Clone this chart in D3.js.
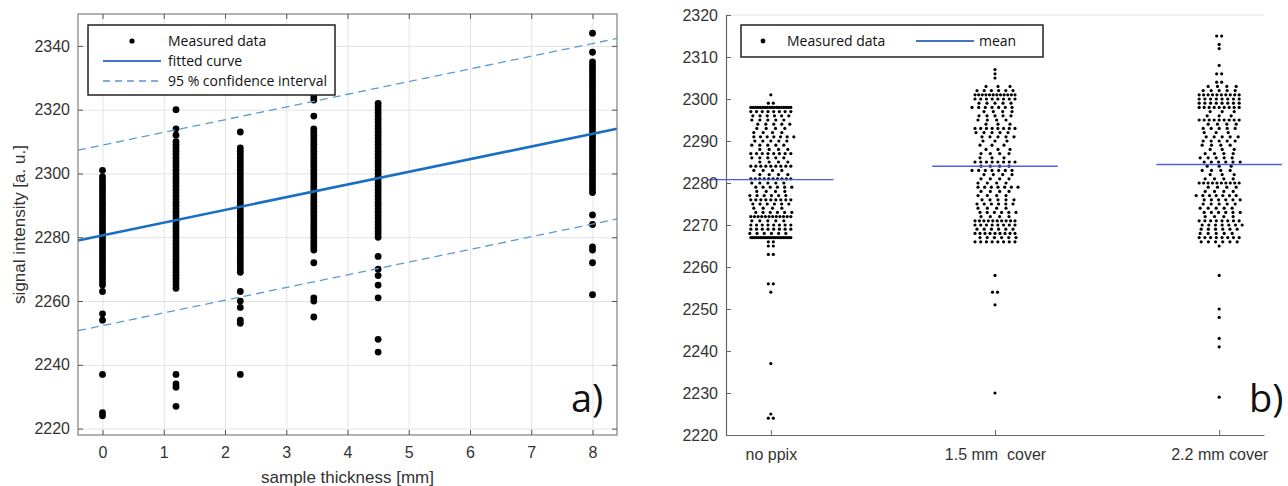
<!DOCTYPE html>
<html>
<head>
<meta charset="utf-8">
<script src="https://cdn.jsdelivr.net/npm/d3@7"></script>
<style>
  body { margin: 0; background: #fff; }
  svg { display: block; }
  text { font-family: "Liberation Sans", Arial, sans-serif; fill: #333; }
  .leg { font-family: "Open Sans", sans-serif; fill: #111; }
  .tag { font-family: "Open Sans", sans-serif; fill: #111; }
</style>
</head>
<body>
<div id="chart"></div>
<script>
// ---- panel a) : signal vs sample thickness ----
var thickness = [0, 1.2, 2.25, 3.45, 4.5, 8];

var signal0 = [2224, 2225, 2237, 2254, 2256, 2263,
  2265, 2266, 2267, 2268, 2269, 2270, 2271, 2272, 2273, 2274, 2275, 2276, 2277, 2278, 2279, 2280,
  2281, 2282, 2283, 2284, 2285, 2286, 2287, 2288, 2289, 2290, 2291, 2292, 2293, 2294, 2295, 2296,
  2297, 2298, 2299, 2301];
var signal1 = [2227, 2233, 2234, 2237,
  2264, 2265, 2266, 2267, 2268, 2269, 2270, 2271, 2272, 2273, 2274, 2275, 2276, 2277, 2278, 2279,
  2280, 2281, 2282, 2283, 2284, 2285, 2286, 2287, 2288, 2289, 2290, 2291, 2292, 2293, 2294, 2295,
  2296, 2297, 2298, 2299, 2300, 2301, 2302, 2303, 2304, 2305, 2306, 2307, 2308, 2309, 2310,
  2312, 2314, 2320];
var signal2 = [2237, 2253, 2254, 2258, 2260, 2263,
  2269, 2270, 2271, 2272, 2273, 2274, 2275, 2276, 2277, 2278, 2279, 2280, 2281, 2282, 2283, 2284,
  2285, 2286, 2287, 2288, 2289, 2290, 2291, 2292, 2293, 2294, 2295, 2296, 2297, 2298, 2299, 2300,
  2301, 2302, 2303, 2304, 2305, 2306, 2307, 2308, 2313];
var signal3 = [2255, 2260, 2261, 2272,
  2276, 2277, 2278, 2279, 2280, 2281, 2282, 2283, 2284, 2285, 2286, 2287, 2288, 2289, 2290, 2291,
  2292, 2293, 2294, 2295, 2296, 2297, 2298, 2299, 2300, 2301, 2302, 2303, 2304, 2305, 2306, 2307,
  2308, 2309, 2310, 2311, 2312, 2313, 2314, 2318, 2323, 2324, 2325, 2326];
var signal4 = [2244, 2248, 2261, 2265, 2268, 2270, 2274,
  2280, 2281, 2282, 2283, 2284, 2285, 2286, 2287, 2288, 2289, 2290, 2291, 2292, 2293, 2294, 2295,
  2296, 2297, 2298, 2299, 2300, 2301, 2302, 2303, 2304, 2305, 2306, 2307, 2308, 2309, 2310, 2311,
  2312, 2313, 2314, 2315, 2316, 2317, 2318, 2319, 2320, 2321, 2322];
var signal5 = [2262, 2272, 2276, 2277, 2284, 2287,
  2294, 2295, 2296, 2297, 2298, 2299, 2300, 2301, 2302, 2303, 2304, 2305, 2306, 2307, 2308, 2309,
  2310, 2311, 2312, 2313, 2314, 2315, 2316, 2317, 2318, 2319, 2320, 2321, 2322, 2323, 2324, 2325,
  2326, 2327, 2328, 2329, 2330, 2331, 2332, 2333, 2334, 2335, 2338, 2344];
var signalByThickness = [signal0, signal1, signal2, signal3, signal4, signal5];

var fitIntercept = 2280.6;
var fitSlope = 3.98;
var ciHalfWidth = 28.3;

var xTicksA = [0, 1, 2, 3, 4, 5, 6, 7, 8];
var yTicksA = [2220, 2240, 2260, 2280, 2300, 2320, 2340];

// ---- panel b) : groups, [value, count] ----
var groupLabels = ["no ppix", "1.5 mm  cover", "2.2 mm cover"];
var groupMeans = [2280.8, 2284.0, 2284.4];
var noPpix = [[2301,1],[2299,2],[2298,18],[2297,8],[2296,6],[2295,5],[2294,5],[2293,4],[2292,4],
  [2291,7],[2290,5],[2289,5],[2288,4],[2287,8],[2286,5],[2285,4],[2284,9],[2283,4],[2282,4],
  [2281,10],[2280,5],[2279,6],[2278,4],[2277,6],[2276,9],[2275,6],[2274,4],[2273,6],[2272,12],
  [2271,5],[2270,8],[2269,8],[2268,6],[2267,22],[2266,2],[2265,2],[2263,2],[2256,2],[2254,1],
  [2237,1],[2225,1],[2224,2]];
var cover15 = [[2307,1],[2306,1],[2305,1],[2303,3],[2302,6],[2301,12],[2300,8],[2299,5],[2298,7],
  [2297,4],[2296,5],[2295,4],[2294,3],[2293,8],[2292,5],[2291,5],[2290,3],[2289,3],[2288,3],
  [2287,4],[2286,3],[2285,8],[2284,4],[2283,7],[2282,4],[2281,4],[2280,4],[2279,7],[2278,4],
  [2277,4],[2276,5],[2275,6],[2274,4],[2273,6],[2272,4],[2271,10],[2270,8],[2269,6],[2268,9],
  [2267,6],[2266,8],[2258,1],[2254,2],[2251,1],[2230,1]];
var cover22 = [[2315,2],[2313,1],[2312,1],[2308,1],[2306,2],[2304,2],[2303,4],[2302,5],[2301,10],
  [2300,8],[2299,8],[2298,9],[2297,3],[2296,3],[2295,9],[2294,4],[2293,5],[2292,3],[2291,5],
  [2290,5],[2289,4],[2288,3],[2287,4],[2286,5],[2285,6],[2284,3],[2283,4],[2282,3],[2281,4],
  [2280,10],[2279,4],[2278,4],[2277,7],[2276,6],[2275,5],[2274,5],[2273,6],[2272,4],[2271,8],
  [2270,7],[2269,6],[2268,5],[2267,8],[2266,6],[2265,1],[2258,1],[2250,1],[2248,1],[2243,1],
  [2241,1],[2229,1]];
var groupData = [noPpix, cover15, cover22];
var yTicksB = [2220, 2230, 2240, 2250, 2260, 2270, 2280, 2290, 2300, 2310, 2320];

function init() {
  var w = 1288, h = 486;
  var svg = d3.select("#chart").append("svg").attr("width", w).attr("height", h);
  var fmt = d3.format("d");

  // ================= panel a =================
  var L = 78, R = 617, T = 14, B = 435;
  var x = d3.scaleLinear().domain([-0.4, 8.4]).range([L, R]);
  var y = d3.scaleLinear().domain([2218, 2350]).range([B, T]);

  var ga = svg.append("g");
  // grid
  ga.append("g").attr("transform", "translate(0," + B + ")")
    .call(d3.axisBottom(x).tickValues(xTicksA).tickSize(-(B - T)).tickFormat(""))
    .call(function(g) { g.select(".domain").remove(); g.selectAll("line").attr("stroke", "#e3e3e3"); });
  ga.append("g").attr("transform", "translate(" + L + ",0)")
    .call(d3.axisLeft(y).tickValues(yTicksA).tickSize(-(R - L)).tickFormat(""))
    .call(function(g) { g.select(".domain").remove(); g.selectAll("line").attr("stroke", "#e3e3e3"); });

  // points
  var pts = [];
  thickness.forEach(function(t, i) {
    signalByThickness[i].forEach(function(v) { pts.push([t, v]); });
  });
  ga.append("g").selectAll("circle").data(pts).enter().append("circle")
    .attr("cx", function(d) { return x(d[0]); })
    .attr("cy", function(d) { return y(d[1]); })
    .attr("r", 3.4)
    .attr("fill", "#000");

  // fit + confidence lines
  var xd = x.domain();
  function fitLine(off) {
    return d3.line()
      .x(function(d) { return x(d); })
      .y(function(d) { return y(fitIntercept + fitSlope * d + off); })(xd);
  }
  ga.append("path").attr("d", fitLine(ciHalfWidth)).attr("fill", "none")
    .attr("stroke", "#5b9bd5").attr("stroke-width", 1.3).attr("stroke-dasharray", "8,5");
  ga.append("path").attr("d", fitLine(-ciHalfWidth)).attr("fill", "none")
    .attr("stroke", "#5b9bd5").attr("stroke-width", 1.3).attr("stroke-dasharray", "8,5");
  ga.append("path").attr("d", fitLine(0)).attr("fill", "none")
    .attr("stroke", "#1a6fc2").attr("stroke-width", 2.6);

  // frame + axes
  ga.append("rect").attr("x", L).attr("y", T).attr("width", R - L).attr("height", B - T)
    .attr("fill", "none").attr("stroke", "#808080").attr("stroke-width", 1.2);
  function styleAx(g) {
    g.select(".domain").remove();
    g.selectAll("line").attr("stroke", "#555");
    g.selectAll("text").attr("font-size", "16px").attr("fill", "#333")
      .style("font-family", "'Liberation Sans', Arial, sans-serif");
  }
  ga.append("g").attr("transform", "translate(0," + B + ")")
    .call(d3.axisBottom(x).tickValues(xTicksA).tickSize(-5).tickPadding(12)).call(styleAx);
  ga.append("g").attr("transform", "translate(0," + T + ")")
    .call(d3.axisTop(x).tickValues(xTicksA).tickSize(-5).tickFormat("")).call(styleAx);
  ga.append("g").attr("transform", "translate(" + L + ",0)")
    .call(d3.axisLeft(y).tickValues(yTicksA).tickSize(-5).tickPadding(8).tickFormat(fmt)).call(styleAx);
  ga.append("g").attr("transform", "translate(" + R + ",0)")
    .call(d3.axisRight(y).tickValues(yTicksA).tickSize(-5).tickFormat("")).call(styleAx);

  ga.append("text").attr("x", (L + R) / 2).attr("y", 483).attr("text-anchor", "middle")
    .attr("font-size", "17px").text("sample thickness [mm]");
  ga.append("text").attr("transform", "translate(25," + (T + B) / 2 + ") rotate(-90)")
    .attr("text-anchor", "middle").attr("font-size", "17px").text("signal intensity [a. u.]");

  // legend a
  var la = ga.append("g");
  la.append("rect").attr("x", 88).attr("y", 25).attr("width", 247).attr("height", 70)
    .attr("fill", "#fff").attr("stroke", "#222").attr("stroke-width", 1.5);
  la.append("circle").attr("cx", 132).attr("cy", 41).attr("r", 2.6).attr("fill", "#000");
  la.append("line").attr("x1", 103).attr("x2", 161).attr("y1", 61).attr("y2", 61)
    .attr("stroke", "#3f76c8").attr("stroke-width", 2.2);
  la.append("line").attr("x1", 103).attr("x2", 161).attr("y1", 81).attr("y2", 81)
    .attr("stroke", "#5b8fd8").attr("stroke-width", 1.6).attr("stroke-dasharray", "7,5");
  var legA = ["Measured data", "fitted curve", "95 % confidence interval"];
  la.selectAll("text.leg").data(legA).enter().append("text").attr("class", "leg")
    .attr("x", 168).attr("y", function(d, i) { return 46 + i * 20; })
    .attr("font-size", "14px").text(function(d) { return d; });

  ga.append("text").attr("class", "tag").attr("x", 571).attr("y", 412)
    .attr("font-size", "38px").text("a)");

  // ================= panel b =================
  var L2 = 726, R2 = 1264, T2 = 15, B2 = 435;
  var x2 = d3.scaleLinear().domain([0.8, 3.2]).range([L2, R2]);
  var y2 = d3.scaleLinear().domain([2220, 2320]).range([B2, T2]);
  var gb = svg.append("g");

  gb.append("line").attr("x1", L2).attr("x2", R2).attr("y1", T2).attr("y2", T2)
    .attr("stroke", "#e2e2e2");

  // spread each value row sideways (layout only)
  var dots = [];
  groupData.forEach(function(rows, gi) {
    rows.forEach(function(r) {
      var v = r[0], n = r[1];
      var wRow = n === 1 ? 0 : (n === 2 ? 5 : Math.min(40, 12 + 4 * n));
      var shift = n < 8 ? ((v % 3) - 1) * 3 : 0;
      for (var k = 0; k < n; k++) {
        var off = n === 1 ? 0 : -wRow / 2 + wRow * k / (n - 1);
        dots.push({ g: gi + 1, v: v, off: off + (n > 2 ? shift : 0) });
      }
    });
  });
  gb.append("g").selectAll("circle").data(dots).enter().append("circle")
    .attr("cx", function(d) { return x2(d.g) + d.off; })
    .attr("cy", function(d) { return y2(d.v); })
    .attr("r", 1.6).attr("fill", "#000");

  gb.append("g").selectAll("line").data(groupMeans).enter().append("line")
    .attr("x1", function(d, i) { return x2(i + 1 - 0.28); })
    .attr("x2", function(d, i) { return x2(i + 1 + 0.28); })
    .attr("y1", function(d) { return y2(d); })
    .attr("y2", function(d) { return y2(d); })
    .attr("stroke", "#4d5fe6").attr("stroke-width", 1.4);

  function styleAx2(g) {
    g.select(".domain").attr("stroke", "#666").attr("stroke-width", 1.2);
    g.selectAll("line").attr("stroke", "#666");
    g.selectAll("text").attr("font-size", "16px").attr("fill", "#333")
      .style("font-family", "'Liberation Sans', Arial, sans-serif")
      .style("white-space", "pre");
  }
  gb.append("g").attr("transform", "translate(0," + B2 + ")")
    .call(d3.axisBottom(x2).tickValues([1, 2, 3]).tickSizeInner(-5).tickSizeOuter(0).tickPadding(14)
      .tickFormat(function(d) { return groupLabels[d - 1]; }))
    .call(styleAx2);
  gb.append("g").attr("transform", "translate(" + L2 + ",0)")
    .call(d3.axisLeft(y2).tickValues(yTicksB).tickSizeInner(-5).tickSizeOuter(0).tickPadding(8)
      .tickFormat(fmt))
    .call(styleAx2);

  // legend b
  var lb = gb.append("g");
  lb.append("rect").attr("x", 741).attr("y", 25).attr("width", 302).attr("height", 32)
    .attr("fill", "#fff").attr("stroke", "#222").attr("stroke-width", 1.5);
  lb.append("circle").attr("cx", 763).attr("cy", 41).attr("r", 2.4).attr("fill", "#000");
  lb.append("text").attr("class", "leg").attr("x", 787).attr("y", 46).attr("font-size", "14px")
    .text("Measured data");
  lb.append("line").attr("x1", 916).attr("x2", 974).attr("y1", 41).attr("y2", 41)
    .attr("stroke", "#4472c4").attr("stroke-width", 2.2);
  lb.append("text").attr("class", "leg").attr("x", 979).attr("y", 46).attr("font-size", "14px")
    .text("mean");

  gb.append("text").attr("class", "tag").attr("x", 1249).attr("y", 412)
    .attr("font-size", "38px").text("b)");
}

window.onload = init;
</script>
</body>
</html>
